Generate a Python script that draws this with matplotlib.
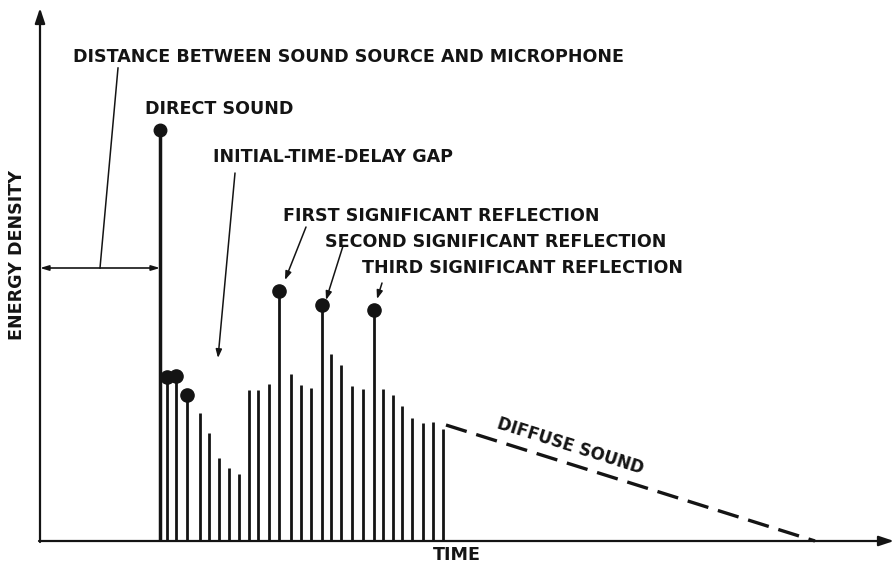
import matplotlib
matplotlib.use("Agg")
import matplotlib.pyplot as plt

# ---- data (time units, energy units; origin at the axes corner) ----
direct_t = [120]
direct_e = [411]

refl_t = [127, 136, 147, 160, 169, 179, 189, 199, 209, 218, 229, 239, 251, 261, 271,
          282, 291, 301, 312, 323, 334, 343, 353, 362, 372, 383, 393, 403]
refl_e = [164, 165, 146, 128, 108, 83, 73, 67, 151, 151, 157, 250, 167, 156, 153,
          236, 187, 176, 155, 152, 231, 152, 146, 135, 123, 118, 119, 112]

dot_t = [127, 136, 147, 239, 282, 334]
dot_e = [164, 165, 146, 250, 236, 231]

diffuse_t = [406, 775]
diffuse_e = [116, 0]

labels = ["DISTANCE BETWEEN SOUND SOURCE AND MICROPHONE", "DIRECT SOUND",
          "INITIAL-TIME-DELAY GAP", "FIRST SIGNIFICANT REFLECTION",
          "SECOND SIGNIFICANT REFLECTION", "THIRD SIGNIFICANT REFLECTION"]

INK = "#141414"
plt.rcParams['font.family'] = ['DejaVu Sans']

fig = plt.figure(figsize=(8.94, 5.65), dpi=100)
ax = fig.add_axes([0, 0, 1, 1])
ax.set_xlim(-40, 854)
ax.set_ylim(-24, 541)
ax.axis('off')

# axes arrows
ax.annotate("", xy=(0, 533), xytext=(0, -1),
            arrowprops=dict(arrowstyle="-|>,head_length=0.9,head_width=0.3", lw=1.6, color=INK,
                            shrinkA=0, shrinkB=0))
ax.annotate("", xy=(854, 0), xytext=(-1, 0),
            arrowprops=dict(arrowstyle="-|>,head_length=0.9,head_width=0.3", lw=1.6, color=INK,
                            shrinkA=0, shrinkB=0))

# bars
ax.vlines(refl_t, 0, refl_e, color=INK, lw=2.0)
ax.vlines(direct_t, 0, direct_e, color=INK, lw=2.5)
ax.plot(direct_t, direct_e, 'o', color=INK, ms=9)
ax.plot(dot_t, dot_e, 'o', color=INK, ms=9.5)

# diffuse sound
ax.plot(diffuse_t, diffuse_e, color=INK, lw=2.4, dashes=(6.5, 3))

fs = 12.6
tkw = dict(fontsize=fs, fontweight='bold', color=INK, va='center', ha='left')
ax.text(33, 484, labels[0], **tkw)
ax.text(105, 432, labels[1], **tkw)
ax.text(173, 384, labels[2], **tkw)
ax.text(243, 325, labels[3], **tkw)
ax.text(285, 299, labels[4], **tkw)
ax.text(322, 273, labels[5], **tkw)
ax.text(417, -14, "TIME", fontsize=fs, fontweight='bold', color=INK, ha='center', va='center')
ax.text(-23, 286, "ENERGY DENSITY", fontsize=fs, fontweight='bold', color=INK,
        ha='center', va='center', rotation=90)
ax.text(530, 95, "DIFFUSE SOUND", fontsize=fs - 0.6, fontweight='bold', color=INK,
        ha='center', va='center', rotation=-17.5, rotation_mode='anchor')

# dimension line and leaders
ax.annotate("", xy=(0, 273), xytext=(120, 273),
            arrowprops=dict(arrowstyle="<|-|>,head_length=0.5,head_width=0.15", lw=1.2,
                            color=INK, shrinkA=0, shrinkB=0))
ax.plot([78, 60], [473, 273], color=INK, lw=1.1)

arr = dict(arrowstyle="-|>,head_length=0.5,head_width=0.18", lw=1.1, color=INK,
           shrinkA=0, shrinkB=0)
ax.annotate("", xy=(178, 183), xytext=(195, 368), arrowprops=arr)
ax.annotate("", xy=(245, 261), xytext=(266, 314), arrowprops=arr)
ax.annotate("", xy=(286, 241), xytext=(303, 295), arrowprops=arr)
ax.annotate("", xy=(337, 242), xytext=(342, 258), arrowprops=arr)

fig.savefig("out.png", dpi=100, facecolor="white")
